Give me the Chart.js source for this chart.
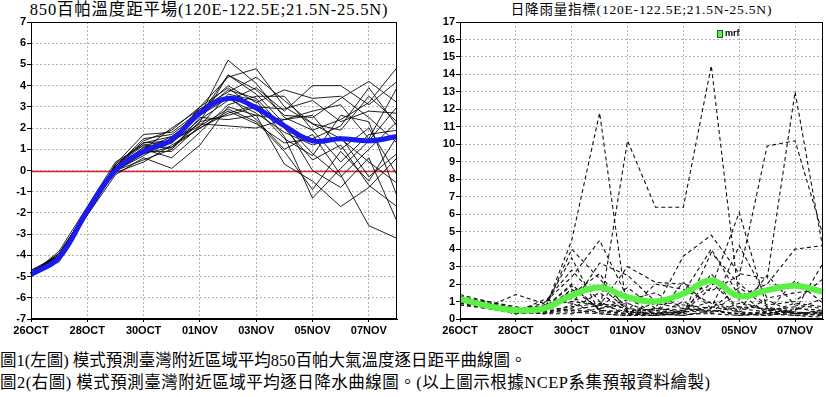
<!DOCTYPE html>
<html>
<head>
<meta charset="utf-8">
<title>850百帕溫度距平 / 日降雨量指標</title>
<script src="https://cdn.jsdelivr.net/npm/chart.js"></script>
<style>
  body { margin: 0; background: #fff; }
  #page { position: relative; width: 826px; height: 397px; overflow: hidden; }
  canvas { position: absolute; top: 0; }
  .ttl { position: absolute; top: 0; text-align: center; white-space: nowrap; color: #000;
         font-family: "Liberation Serif", "Noto Sans CJK TC", serif; }
  .cap { position: absolute; left: 0; white-space: nowrap; color: #000; font-size: 16.5px; line-height: 22px;
         font-family: "Liberation Serif", "Noto Sans CJK TC", serif; }
</style>
</head>
<body>
<div id="page">
  <div class="ttl" style="left:0;width:418px;font-size:16.5px;line-height:19px;letter-spacing:0.8px">850百帕溫度距平場(120E-122.5E;21.5N-25.5N)</div>
  <div class="ttl" style="left:460px;width:363px;font-size:13.5px;line-height:19px;letter-spacing:0.8px">日降雨量指標(120E-122.5E;21.5N-25.5N)</div>
  <canvas id="tempChart" width="400" height="342" style="left:0"></canvas>
  <canvas id="rainChart" width="408" height="342" style="left:418px"></canvas>
  <div class="cap" style="top:350px">圖1(左圖) 模式預測臺灣附近區域平均850百帕大氣溫度逐日距平曲線圖。</div>
  <div class="cap" style="top:372px;letter-spacing:0.5px">圖2(右圖) 模式預測臺灣附近區域平均逐日降水曲線圖。(以上圖示根據NCEP系集預報資料繪製)</div>
</div>

<script>
// forecast days (one value per day)
const days = ['26OCT','27OCT','28OCT','29OCT','30OCT','31OCT','01NOV','02NOV','03NOV','04NOV','05NOV','06NOV','07NOV','08NOV'];

// 850hPa temperature anomaly, ensemble members
const tempMembers = [
  [-4.8,-4.0,-1.9, 0.1, 1.0, 1.6, 2.6, 5.2, 4.1, 2.5, 1.9, 2.4, 3.2, 4.85],
  [-4.9,-4.1,-2.0, 0.0, 0.8, 1.1, 2.3, 4.5, 3.6, 2.2, 0.8,-0.3, 1.0, 2.3],
  [-4.8,-4.2,-1.8, 0.2, 1.3, 1.4, 3.0, 4.4, 4.8, 3.0, 2.2, 1.5, 0.4,-0.6],
  [-4.9,-3.9,-1.9, 0.0, 0.9, 0.9, 2.1, 3.6, 3.3, 1.6,-1.3, 0.1, 1.4, 3.0],
  [-4.7,-4.0,-2.0, 0.3, 1.7, 1.8, 2.8, 4.0, 3.2, 3.8, 3.4, 3.5, 2.5, 1.3],
  [-5.0,-4.3,-2.1,-0.2, 0.6, 0.1, 1.2, 3.0, 2.6, 0.3,-0.5,-1.7,-0.8, 0.6],
  [-4.8,-4.1,-1.9, 0.1, 1.1, 1.3, 2.4, 3.3, 3.9, 2.8, 4.0, 4.0, 3.1, 4.2],
  [-4.9,-4.0,-1.8,-0.1, 0.4, 1.2, 2.0, 2.8, 2.2, 1.3, 1.5, 2.1, 3.9, 2.1],
  [-4.8,-4.2,-2.0, 0.2, 1.5, 1.7, 2.7, 3.8, 3.4, 2.0, 0.5, 1.2,-0.7,-1.7],
  [-4.9,-3.8,-1.7, 0.4, 1.2, 1.0, 2.5, 2.4, 2.6, 2.4, 2.6, 1.0, 2.0,-0.2],
  [-4.8,-4.1,-1.9, 0.0, 0.7, 1.5, 2.9, 3.5, 2.4, 1.0, 1.7,-0.2,-2.6,-3.2],
  [-4.9,-4.0,-2.0, 0.1, 0.9, 1.4, 2.2, 2.1, 2.0, 2.4, 2.8, 3.1, 1.5, 3.9],
  [-4.7,-4.2,-1.8,-0.1, 1.0, 0.6, 1.8, 3.1, 3.5, 3.5, 1.9, 0.4, 1.7, 1.9],
  [-4.8,-3.9,-1.9, 0.2, 1.4, 1.9, 3.0, 3.9, 2.9, 1.5, 0.7, 2.6, 2.3,-1.2],
  [-5.0,-4.1,-2.1, 0.0, 0.8, 1.3, 2.6, 4.5, 3.8, 2.6, 2.5, 3.4, 4.2, 3.2],
  [-4.8,-4.0,-1.8, 0.1, 1.1, 1.1, 2.0, 2.7, 3.1, 2.2, 0.0,-0.8, 0.6,-2.4],
  [-4.9,-4.1,-1.9, 0.3, 1.3, 1.6, 2.6, 3.4, 2.7, 1.8, 1.2, 1.6,-0.3, 0.8],
  [-4.8,-4.0,-2.0, 0.0, 0.5, 1.0, 2.3, 2.6, 3.0, 2.9, 3.3, 2.3, 2.8, 2.7],
  [-4.9,-4.2,-1.9, 0.2, 1.2, 1.4, 2.1, 2.9, 2.3, 0.9,-0.9, 0.9,-0.5, 1.6],
  [-4.8,-4.0,-1.8, 0.1, 1.0, 2.0, 2.9, 3.7, 4.4, 3.3, 2.2, 1.9, 3.5, 2.3]
];
// ensemble mean (blue)
const tempMean = [-4.9,-4.1,-1.9, 0.0, 0.9, 1.45, 2.7, 3.4, 2.95, 2.1, 1.4, 1.5, 1.4, 1.6];

// daily rain index, ensemble members (dashed)
const rainMembers = [
  [1.0,0.8,0.5,0.4,4.5,11.8,0.3,0.2,0.4,0.5,0.3,0.4,0.2,0.3],
  [1.2,0.9,0.6,0.5,0.5,0.4,10.2,6.4,6.4,14.5,1.0,0.5,0.3,0.2],
  [0.9,0.7,1.4,0.9,2.4,4.5,1.2,0.3,0.4,1.8,6.1,0.6,0.4,0.3],
  [1.3,0.9,0.5,0.8,1.0,0.8,3.0,2.1,2.0,1.6,2.5,9.9,10.2,4.8],
  [1.1,0.8,0.4,0.6,1.9,0.5,0.4,0.6,3.6,4.8,2.6,2.3,13.0,4.0],
  [1.2,1.0,0.7,0.4,4.0,2.3,0.6,0.5,1.5,4.0,1.3,2.0,4.0,4.2],
  [0.8,0.6,0.4,0.3,0.8,3.2,2.5,1.0,0.8,0.6,4.2,1.2,1.5,1.7],
  [1.3,0.9,0.3,0.6,1.6,1.9,0.5,2.0,1.7,0.9,0.4,0.3,0.6,0.5],
  [1.0,0.7,0.5,0.9,2.8,1.0,0.2,0.4,0.3,3.8,2.0,0.8,1.0,2.3],
  [1.1,0.8,0.4,0.3,0.6,1.5,0.4,0.3,0.2,0.5,0.3,0.2,0.4,0.2],
  [1.4,1.0,0.6,0.5,1.2,0.7,1.8,0.6,0.5,1.0,0.5,2.5,0.8,0.6],
  [0.9,0.6,0.3,0.4,0.4,0.3,0.2,0.2,0.3,0.3,0.2,0.3,0.2,0.1],
  [1.2,0.9,0.5,0.7,3.5,0.4,0.3,0.2,2.1,0.6,1.8,0.7,0.3,0.4],
  [1.0,0.7,0.4,0.5,1.4,2.6,0.4,0.3,0.5,2.1,0.6,0.4,2.2,0.9],
  [1.3,0.8,0.6,0.3,0.3,0.6,1.1,1.5,0.6,0.4,1.5,0.3,0.5,3.2],
  [1.1,0.9,0.5,0.6,2.0,0.5,0.3,0.6,0.4,0.7,0.4,1.1,0.3,0.5],
  [0.8,0.7,0.3,0.4,0.7,0.9,0.6,0.2,1.0,0.3,0.9,0.5,0.7,0.3],
  [1.2,0.8,0.4,1.1,0.9,0.3,0.2,0.5,0.3,2.6,0.3,0.2,0.5,1.2],
  [1.0,0.9,0.6,0.5,1.7,0.6,0.9,0.3,0.2,0.4,0.7,0.6,0.3,0.4],
  [1.1,0.7,0.5,0.7,0.5,0.8,0.4,0.9,0.6,0.5,0.2,0.4,0.9,0.7]
];
// mrf run (green)
const rainMrf = [1.15,0.75,0.5,0.6,1.35,1.8,1.25,1.0,1.45,2.2,1.3,1.65,1.9,1.55];

const gridGray = '#b4b4b4';
const zeroRed = '#dd2233';
const tickFont = { family: "'Liberation Sans Narrow','Liberation Sans',Arial,sans-serif", weight: 'bold', size: 11 };

// closes the plot box (top and right edges)
const frame = {
  id: 'frame',
  afterDraw(chart) {
    const { ctx, chartArea: a } = chart;
    ctx.save();
    ctx.strokeStyle = '#000';
    ctx.lineWidth = 1;
    ctx.strokeRect(Math.round(a.left) + 0.5, Math.round(a.top) + 0.5,
                   Math.round(a.right - a.left) - 1, Math.round(a.bottom - a.top) - 1);
    ctx.restore();
  }
};

// red zero line on the anomaly chart
const zeroLine = {
  id: 'zeroLine',
  beforeDatasetsDraw(chart) {
    const { ctx, chartArea: a, scales } = chart;
    const y = Math.round(scales.y.getPixelForValue(0)) + 0.5;
    ctx.save();
    ctx.setLineDash([]);
    ctx.strokeStyle = zeroRed;
    ctx.lineWidth = 1.4;
    ctx.beginPath();
    ctx.moveTo(a.left, y);
    ctx.lineTo(a.right, y);
    ctx.stroke();
    ctx.restore();
  }
};

// small legend inside the plot area
const boxLegend = {
  id: 'boxLegend',
  afterDraw(chart, args, opts) {
    if (opts.index === undefined) return;
    const ds = chart.data.datasets[opts.index];
    const { ctx, chartArea: a } = chart;
    const x = a.left + (a.right - a.left) * opts.xFrac;
    const y = a.top + opts.yOff;
    ctx.save();
    ctx.fillStyle = ds.borderColor;
    ctx.fillRect(x, y - 3.5, 5, 7);
    ctx.strokeStyle = '#226622';
    ctx.lineWidth = 1;
    ctx.strokeRect(x + 0.5, y - 3.5, 5, 7);
    ctx.fillStyle = '#000';
    ctx.font = "bold 9px 'Liberation Sans',Arial,sans-serif";
    ctx.textBaseline = 'middle';
    ctx.fillText(ds.label, x + 8, y);
    ctx.restore();
  }
};

function dayAxis() {
  return {
    type: 'category',
    offset: false,
    grid: {
      color: c => (c.index % 2 ? 'rgba(0,0,0,0)' : gridGray),
      tickColor: c => (c.index % 2 ? 'rgba(0,0,0,0)' : '#000'),
      tickLength: 3
    },
    border: { color: '#000', width: 1, dash: [2, 2] },
    ticks: {
      autoSkip: false, maxRotation: 0, padding: 2, color: '#000', font: tickFont,
      callback: (v, i) => (i % 2 ? '' : days[i])
    },
    afterFit(s) { s.height = 23; }
  };
}

function valueAxis(min, max, width) {
  return {
    min: min, max: max,
    grid: { color: gridGray, tickColor: '#000', tickLength: 4 },
    border: { color: '#000', width: 1, dash: [2, 2] },
    ticks: { stepSize: 1, padding: 1, color: '#000', font: tickFont },
    afterFit(s) { s.width = width; }
  };
}

const tempDatasets = [
  { label: 'mean', data: tempMean, borderColor: '#1a1af5', borderWidth: 5, tension: 0.4, pointRadius: 0, order: 0 }
].concat(tempMembers.map((m, i) => ({
  label: 'm' + (i + 1), data: m, borderColor: 'rgba(10,10,10,0.9)', borderWidth: 1, tension: 0, pointRadius: 0, order: 1
})));

new Chart(document.getElementById('tempChart'), {
  type: 'line',
  data: { labels: days, datasets: tempDatasets },
  options: {
    responsive: false,
    animation: false,
    layout: { padding: { top: 22, right: 3, left: 0, bottom: 0 } },
    scales: { x: dayAxis(), y: valueAxis(-7, 7, 31) },
    plugins: {
      legend: { display: false },
      tooltip: { enabled: false }
    }
  },
  plugins: [frame, zeroLine]
});

const rainDatasets = [
  { label: 'mrf', data: rainMrf, borderColor: '#5cf046', borderWidth: 6, tension: 0.4, pointRadius: 0, order: 0 }
].concat(rainMembers.map((m, i) => ({
  label: 'r' + (i + 1), data: m, borderColor: '#111', borderWidth: 1.1, borderDash: [4, 3], tension: 0, pointRadius: 0, order: 1
})));

new Chart(document.getElementById('rainChart'), {
  type: 'line',
  data: { labels: days, datasets: rainDatasets },
  options: {
    responsive: false,
    animation: false,
    layout: { padding: { top: 22, right: 3, left: 0, bottom: 0 } },
    scales: { x: dayAxis(), y: valueAxis(0, 17, 42) },
    plugins: {
      legend: { display: false },
      tooltip: { enabled: false },
      boxLegend: { index: 0, xFrac: 0.708, yOff: 12 }
    }
  },
  plugins: [frame, boxLegend]
});
</script>
</body>
</html>
